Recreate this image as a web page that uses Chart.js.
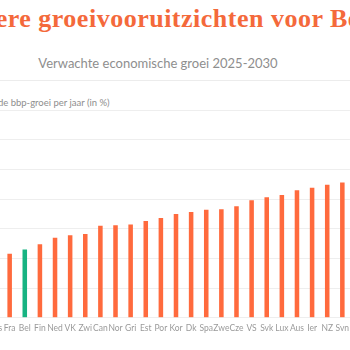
<!DOCTYPE html>
<html>
<head>
<meta charset="utf-8">
<script src="https://cdn.jsdelivr.net/npm/chart.js@4"></script>
<style>
  html, body { margin: 0; padding: 0; background: #fff; }
  body { width: 350px; height: 350px; overflow: hidden; position: relative; font-family: Lato, sans-serif; }
  .title {
    position: absolute; top: 4px; left: -192px; width: 700px; text-align: center;
    font-family: "Liberation Serif", serif; font-weight: bold; font-size: 26px;
    color: #f4693b; white-space: nowrap; letter-spacing: 0.5px;
  }
  .subtitle {
    position: absolute; top: 55px; left: 0; width: 316px; text-align: center;
    font-size: 13px; color: #8e8e8e; white-space: nowrap;
  }
  .rule { position: absolute; top: 80px; left: 0; width: 350px; height: 1px; background: #ececec; }
  .axis-title {
    position: absolute; top: 97px; left: -42px; font-size: 9.5px; color: #8e8e8e; white-space: nowrap;
  }
  .chart-box { position: absolute; top: 100px; left: -18px; width: 372px; height: 240px; }
</style>
</head>
<body>
<div class="title">Zwakkere groeivooruitzichten voor België</div>
<div class="subtitle">Verwachte economische groei 2025-2030</div>
<div class="rule"></div>
<div class="axis-title">Gemiddelde bbp-groei per jaar (in %)</div>
<div class="chart-box"><canvas id="chart"></canvas></div>
<script>
const countries = ['Oos', 'Fra', 'Bel', 'Fin', 'Ned', 'VK', 'Zwi', 'Can', 'Nor', 'Gri', 'Est', 'Por',
  'Kor', 'Dk', 'Spa', 'Zwe', 'Cze', 'VS', 'Svk', 'Lux', 'Aus', 'Ier', 'NZ', 'Svn'];
const growth = [1.02, 1.08, 1.15, 1.24, 1.35, 1.39, 1.41, 1.55, 1.56, 1.57, 1.63, 1.68,
  1.75, 1.78, 1.82, 1.83, 1.88, 1.98, 2.03, 2.07, 2.15, 2.19, 2.24, 2.28];
const yTicks = [0, 0.5, 1, 1.5, 2, 2.5, 3, 3.5];
const highlight = 'Bel';

const orange = '#ff6a3d';
const green = '#17b382';

new Chart(document.getElementById('chart'), {
  type: 'bar',
  data: {
    labels: countries,
    datasets: [{
      data: growth,
      backgroundColor: countries.map((c) => c === highlight ? green : orange),
      barPercentage: 0.3,
      categoryPercentage: 1,
    }],
  },
  options: {
    responsive: true,
    maintainAspectRatio: false,
    animation: false,
    layout: { padding: { top: 10, left: 0, right: 0, bottom: 2 } },
    plugins: { legend: { display: false }, tooltip: { enabled: false } },
    scales: {
      x: {
        grid: { display: false, drawTicks: false },
        border: { color: '#eeeeee' },
        ticks: {
          color: '#9a9a9a', padding: 5, maxRotation: 0, autoSkip: false,
          font: { family: 'Lato', size: 8.5 },
        },
      },
      y: {
        min: 0,
        max: 3.5,
        afterBuildTicks: (axis) => { axis.ticks = yTicks.map((v) => ({ value: v })); },
        ticks: { display: false },
        border: { display: false },
        grid: { color: '#eeeeee', drawTicks: false },
      },
    },
  },
});
</script>
</body>
</html>
